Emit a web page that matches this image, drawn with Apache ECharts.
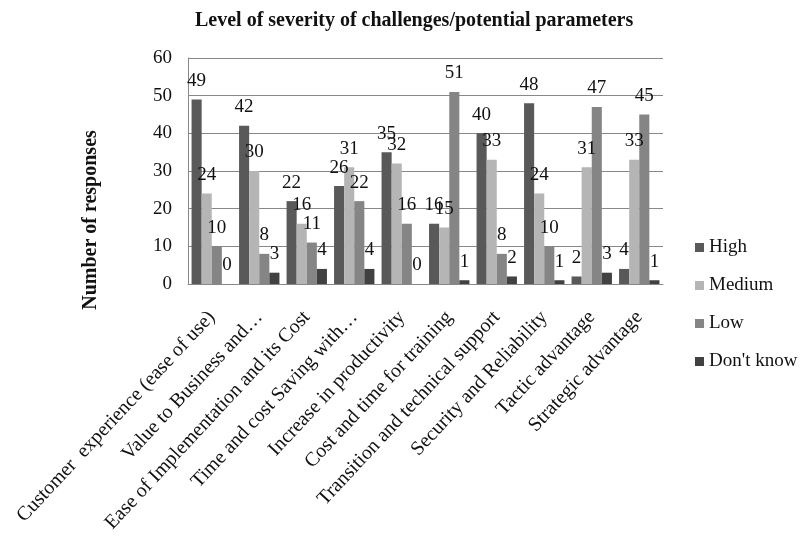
<!DOCTYPE html>
<html>
<head>
<meta charset="utf-8">
<script src="https://cdn.jsdelivr.net/npm/echarts@6/dist/echarts.min.js"></script>
<style>
  html, body { margin: 0; padding: 0; background: #fff; }
  #chart { width: 801px; height: 542px; }
</style>
</head>
<body>
<div id="chart"></div>
<script>
const categories = [
  'Customer  experience (ease of use)',
  'Value to Business and…',
  'Ease of Implementation and its Cost',
  'Time and cost Saving with…',
  'Increase in productivity',
  'Cost and time for training',
  'Transition and technical support',
  'Security and Reliability',
  'Tactic advantage',
  'Strategic advantage'
];
const high     = [49, 42, 22, 26, 35, 16, 40, 48, 2, 4];
const medium   = [24, 30, 16, 31, 32, 15, 33, 24, 31, 33];
const low      = [10, 8, 11, 22, 16, 51, 8, 10, 47, 45];
const dontKnow = [0, 3, 4, 4, 0, 1, 2, 1, 3, 1];
const yTicks = [0, 10, 20, 30, 40, 50, 60];

const serif = '"Liberation Serif", "DejaVu Serif", serif';

function bar(name, data, color) {
  return {
    name: name,
    type: 'bar',
    data: data,
    barGap: '0%',
    barCategoryGap: '15%',
    itemStyle: { color: color },
    label: {
      show: true,
      position: 'top',
      distance: 9,
      color: '#111',
      fontFamily: serif,
      fontSize: 19
    }
  };
}

const chart = echarts.init(document.getElementById('chart'));
chart.setOption({
  animation: false,
  backgroundColor: '#fff',
  title: {
    text: 'Level of severity of challenges/potential parameters',
    left: 190,
    top: 6,
    textStyle: { fontFamily: serif, fontWeight: 'bold', fontSize: 20, color: '#111' }
  },
  grid: { left: 188, right: 138, top: 58, bottom: 258 },
  legend: {
    orient: 'vertical',
    left: 690,
    top: 233,
    itemGap: 19,
    itemWidth: 9,
    itemHeight: 9,
    icon: 'rect',
    textStyle: { fontFamily: serif, fontSize: 19, color: '#111' },
    data: ['High', 'Medium', 'Low', "Don't know"]
  },
  xAxis: {
    type: 'category',
    data: categories,
    axisTick: { show: false },
    axisLine: { lineStyle: { color: '#888' } },
    axisLabel: {
      rotate: 47,
      interval: 0,
      margin: 30,
      fontFamily: serif,
      fontSize: 20,
      color: '#111'
    }
  },
  yAxis: {
    type: 'value',
    min: yTicks[0],
    max: yTicks[yTicks.length - 1],
    interval: 10,
    axisLine: { show: true, lineStyle: { color: '#888' } },
    axisTick: { show: false },
    splitLine: { lineStyle: { color: '#888' } },
    axisLabel: { fontFamily: serif, fontSize: 19, color: '#111', margin: 16 }
  },
  graphic: [{
    type: 'text',
    x: 91,
    y: 220,
    rotation: Math.PI / 2,
    style: {
      text: 'Number of responses',
      fontFamily: serif,
      fontWeight: 'bold',
      fontSize: 20,
      fill: '#111',
      textAlign: 'center',
      textVerticalAlign: 'middle'
    }
  }],
  series: [
    bar('High', high, '#595959'),
    bar('Medium', medium, '#b5b5b5'),
    bar('Low', low, '#858585'),
    bar("Don't know", dontKnow, '#414141')
  ]
});
</script>
</body>
</html>
